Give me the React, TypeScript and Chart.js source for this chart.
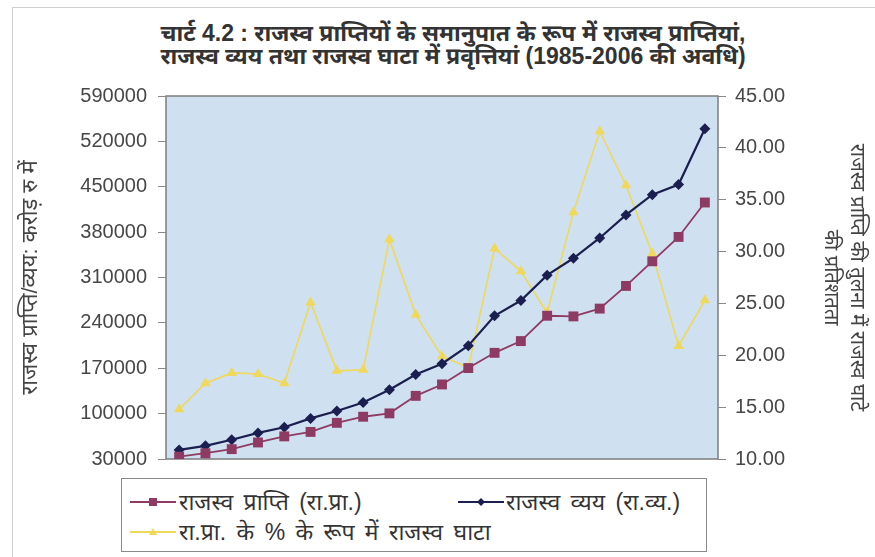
import React, { useEffect, useRef } from 'react';
import { Chart, registerables } from 'chart.js';

Chart.register(...registerables);

// ---------------- data ----------------
const years = [
  '1985-86', '1986-87', '1987-88', '1988-89', '1989-90', '1990-91', '1991-92',
  '1992-93', '1993-94', '1994-95', '1995-96', '1996-97', '1997-98', '1998-99',
  '1999-00', '2000-01', '2001-02', '2002-03', '2003-04', '2004-05', '2005-06',
];
const revenueReceipts = [
  33600, 38900, 45200, 55500, 64900, 71800, 85800, 95200, 100400, 127400, 145000,
  170300, 193800, 211900, 251000, 250000, 262000, 297000, 335000, 372600, 425700,
];
const revenueExpenditure = [
  44000, 50300, 59700, 70200, 79000, 92600, 104000, 117100, 136800, 160300, 177000,
  204700, 251000, 274500, 313600, 339700, 371000, 406500, 437800, 453400, 539400,
];
const deficitPct = [
  14.8, 17.3, 18.3, 18.2, 17.3, 25.1, 18.5, 18.6, 31.2, 23.9, 19.9,
  18.8, 30.3, 28.1, 24.1, 33.8, 41.6, 36.4, 29.8, 20.9, 25.3,
];

const titleLines = [
  'चार्ट 4.2 : राजस्व प्राप्तियों के समानुपात के रूप में राजस्व प्राप्तियां,',
  'राजस्व व्यय तथा राजस्व घाटा में प्रवृत्तियां (1985-2006 की अवधि)',
];
const leftAxisTitle = 'राजस्व प्राप्ति/व्यय: करोड़ रु में';
const rightAxisTitle = ['राजस्व प्राप्ति की तुलना में राजस्व घाटे', 'की प्रतिशतता'];
const seriesNames = [
  'राजस्व प्राप्ति (रा.प्रा.)',
  'राजस्व व्यय (रा.व्य.)',
  'रा.प्रा. के % के रूप में राजस्व घाटा',
];

// ---------------- styles ----------------
const W = 875;
const H = 557;
const FONT = '"Liberation Sans", "Noto Sans", Arial, sans-serif';
const MAROON = '#8e3b63';
const NAVY = '#1b1f4f';
const YELLOW = '#f0d85a';
const PLOT_BG = '#cfe0f0';

const plotBg = {
  id: 'plotBg',
  beforeDraw(chart: any) {
    const { ctx, chartArea: a } = chart;
    ctx.save();
    ctx.fillStyle = PLOT_BG;
    ctx.fillRect(a.left, a.top, a.right - a.left, a.bottom - a.top);
    ctx.strokeStyle = '#7d7d7d';
    ctx.lineWidth = 1.5;
    ctx.strokeRect(a.left, a.top, a.right - a.left, a.bottom - a.top);
    ctx.restore();
  },
};

function Marker({ kind, color }: { kind: string; color: string }) {
  let shape: any = null;
  if (kind === 'rect') shape = <rect x={19} y={6} width={8} height={8} fill={color} />;
  if (kind === 'diamond') shape = <polygon points="23,6 27,10 23,14 19,10" fill={color} />;
  if (kind === 'tri') shape = <polygon points="23,6 27,13 19,13" fill={color} />;
  return (
    <svg width={46} height={20} style={{ display: 'block' }}>
      <line x1={0} y1={10} x2={46} y2={10} stroke={color} strokeWidth={1.8} />
      {shape}
    </svg>
  );
}

export default function App() {
  const ref = useRef<HTMLCanvasElement | null>(null);

  useEffect(() => {
    if (!ref.current) return;
    const chart = new Chart(ref.current, {
      type: 'line',
      data: {
        labels: years,
        datasets: [
          {
            label: seriesNames[0],
            data: revenueReceipts,
            yAxisID: 'y',
            borderColor: MAROON,
            backgroundColor: MAROON,
            borderWidth: 1.8,
            pointStyle: 'rect',
            pointRadius: 7,
            pointBorderWidth: 0,
            tension: 0,
          },
          {
            label: seriesNames[1],
            data: revenueExpenditure,
            yAxisID: 'y',
            borderColor: NAVY,
            backgroundColor: NAVY,
            borderWidth: 2.2,
            pointStyle: 'rectRot',
            pointRadius: 5.5,
            pointBorderWidth: 0,
            tension: 0,
          },
          {
            label: seriesNames[2],
            data: deficitPct,
            yAxisID: 'y1',
            borderColor: YELLOW,
            backgroundColor: YELLOW,
            borderWidth: 1.6,
            pointStyle: 'triangle',
            pointRadius: 6,
            pointBorderWidth: 0,
            tension: 0,
          },
        ],
      },
      options: {
        responsive: false,
        animation: false,
        devicePixelRatio: 1,
        layout: { padding: { left: 12, right: 0, top: 96, bottom: 98 } },
        plugins: {
          legend: { display: false },
          tooltip: { enabled: false },
          title: { display: false },
        },
        scales: {
          x: {
            display: false,
            offset: true,
          },
          y: {
            position: 'left',
            min: 30000,
            max: 590000,
            ticks: {
              stepSize: 70000,
              color: '#474747',
              padding: 11,
              font: { family: FONT, size: 20 },
              callback: (v: any) => String(v),
            },
            grid: { drawOnChartArea: false, tickLength: 8, color: '#888' },
            border: { display: false },
            title: {
              display: true,
              text: leftAxisTitle,
              color: '#444',
              font: { family: FONT, size: 22, lineHeight: 1.2 },
              padding: { top: 6, bottom: 0 },
            },
            afterFit(s: any) {
              s.width = 154;
            },
          },
          y1: {
            position: 'right',
            min: 10,
            max: 45,
            ticks: {
              stepSize: 5,
              color: '#474747',
              padding: 9,
              font: { family: FONT, size: 20 },
              callback: (v: any) => Number(v).toFixed(2),
            },
            grid: { drawOnChartArea: false, tickLength: 8, color: '#888' },
            border: { display: false },
            title: {
              display: true,
              text: rightAxisTitle,
              color: '#444',
              font: { family: FONT, size: 20, lineHeight: 1.3 },
              padding: { top: 5, bottom: 0 },
            },
            afterFit(s: any) {
              s.width = 157;
            },
          },
        },
      },
      plugins: [plotBg],
    } as any);
    return () => chart.destroy();
  }, []);

  const legendText: React.CSSProperties = {
    position: 'absolute',
    fontFamily: FONT,
    fontSize: 23,
    wordSpacing: 4,
    color: '#333',
    whiteSpace: 'nowrap',
    lineHeight: '24px',
  };

  return (
    <div style={{ position: 'fixed', left: 0, top: 0, width: W, height: H, background: '#fff', overflow: 'hidden' }}>
      <div style={{ position: 'absolute', left: 12, top: 7, width: 870, height: 560, borderLeft: '1px solid #cfcfcf', borderTop: '1px solid #cfcfcf' }} />
      <div
        style={{
          position: 'absolute',
          left: 453 - 400,
          top: 22,
          width: 800,
          textAlign: 'center',
          fontFamily: FONT,
          fontWeight: 'bold',
          fontSize: 23,
          lineHeight: '23px',
          color: '#333',
          whiteSpace: 'nowrap',
        }}
      >
        <div>{titleLines[0]}</div>
        <div>{titleLines[1]}</div>
      </div>
      <canvas ref={ref} width={W} height={H} style={{ position: 'absolute', left: 0, top: 0, width: W, height: H }} />
      <div style={{ position: 'absolute', left: 121, top: 478, width: 584, height: 72, border: '1px solid #8a8a8a', background: '#fff' }}>
        <div style={{ position: 'absolute', left: 8, top: 13 }}>
          <Marker kind="rect" color={MAROON} />
        </div>
        <div style={{ ...legendText, left: 57, top: 11 }}>{seriesNames[0]}</div>
        <div style={{ position: 'absolute', left: 336, top: 13 }}>
          <Marker kind="diamond" color={NAVY} />
        </div>
        <div style={{ ...legendText, left: 384, top: 11 }}>{seriesNames[1]}</div>
        <div style={{ position: 'absolute', left: 8, top: 43 }}>
          <Marker kind="tri" color={YELLOW} />
        </div>
        <div style={{ ...legendText, left: 57, top: 41 }}>{seriesNames[2]}</div>
      </div>
    </div>
  );
}
